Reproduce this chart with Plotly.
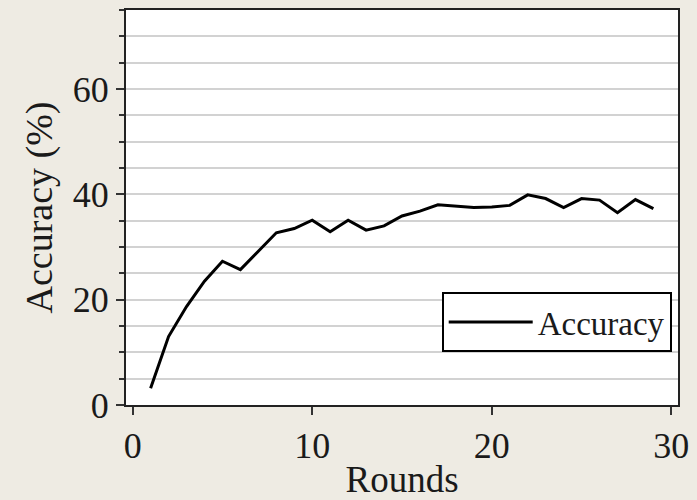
import plotly.graph_objects as go

rounds = list(range(1, 30))
accuracy = [3.2, 13.0, 18.7, 23.5, 27.3, 25.7, 29.2, 32.7, 33.5, 35.1,
            32.9, 35.1, 33.2, 34.0, 35.9, 36.8, 38.0, 37.8, 37.5, 37.6,
            37.9, 39.9, 39.2, 37.5, 39.2, 38.9, 36.5, 39.0, 37.3]
x_ticks = [0, 10, 20, 30]
y_ticks = [0, 20, 40, 60]

FONT = "Liberation Serif, Times New Roman, serif"

fig = go.Figure()
fig.add_trace(go.Scatter(x=rounds, y=accuracy, mode="lines", name="Accuracy",
                         line=dict(color="black", width=3)))

fig.update_layout(
    width=697, height=500,
    margin=dict(l=126, r=19, t=10, b=95, autoexpand=False),
    paper_bgcolor="#eeebe3",
    plot_bgcolor="white",
    font=dict(family=FONT, size=34, color="#1a1a1a"),
    showlegend=True,
    legend=dict(x=0.9886, xanchor="right", y=0.134, yanchor="bottom",
                bordercolor="black", borderwidth=2, bgcolor="white",
                font=dict(family=FONT, size=33, color="#1a1a1a"),
                itemwidth=84, tracegroupgap=0),
    xaxis=dict(range=[-0.37, 30.37], tickvals=x_ticks, ticks="outside",
               ticklen=8, tickwidth=1.5, tickcolor="#333",
               showline=True, linecolor="#222", linewidth=2, mirror=True,
               showgrid=False, zeroline=False, automargin=False,
               title=dict(text="Rounds", font=dict(size=37), standoff=4),
               tickfont=dict(size=36)),
    yaxis=dict(range=[0, 75], tickvals=y_ticks, ticks="outside",
               ticklen=8, tickwidth=1.5, tickcolor="#333",
               showline=True, linecolor="#222", linewidth=2, mirror=True,
               showgrid=True, gridcolor="#d2d2d2", gridwidth=1.5,
               zeroline=False, automargin=False,
               minor=dict(dtick=5, tick0=0, ticks="outside", ticklen=5,
                          tickcolor="#333", showgrid=True,
                          gridcolor="#d2d2d2", gridwidth=1.5),
               title=dict(text="Accuracy (%)", font=dict(size=38), standoff=8),
               tickfont=dict(size=36)),
)

fig.write_html("out.html",
               config={"displayModeBar": False},
               post_script="document.body.style.margin='0';"
                           "document.body.style.background='#eeebe3';")
